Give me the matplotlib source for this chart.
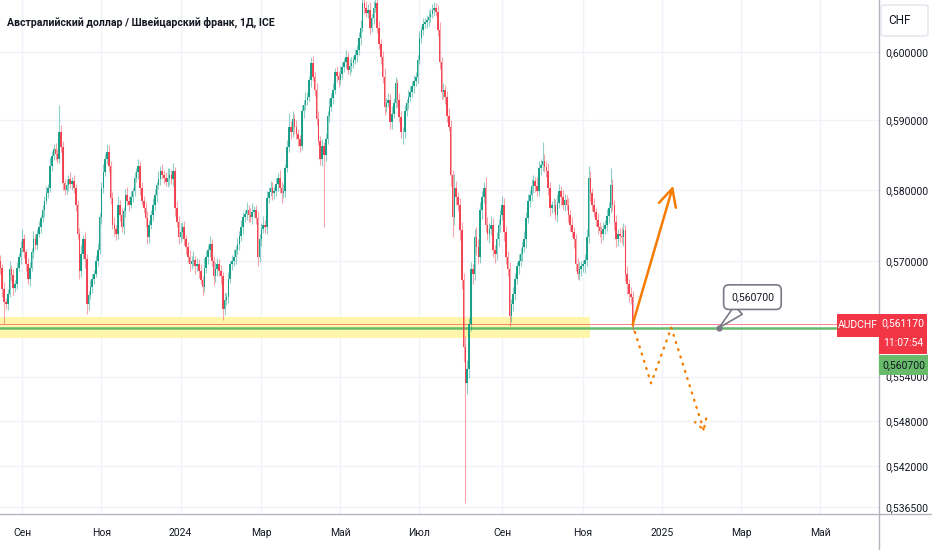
import matplotlib
matplotlib.use('Agg')
import matplotlib.pyplot as plt
from matplotlib.patches import Rectangle, FancyBboxPatch
from matplotlib.lines import Line2D
from matplotlib.ticker import NullLocator
import numpy as np
import pandas as pd

plt.rcParams['font.family'] = ['Roboto', 'DejaVu Sans']

title = 'Австралийский доллар / Швейцарский франк, 1Д, ICE'
symbol = 'AUDCHF'
currency = 'CHF'
countdown = '11:07:54'

# daily AUDCHF, closes in 1e-4 units, first bar 2023-08-16
start_date = '2023-08-16'
open_first = 5700
closes = [
    5690, 5660, 5643, 5640, 5654, 5688, 5680, 5662, 5668, 5690, 5705, 5718, 5730, 5712, 5695, 5674, 5690, 5712, 5730, 5722,
    5738, 5747, 5760, 5771, 5785, 5795, 5803, 5835, 5848, 5859, 5852, 5845, 5883, 5862, 5810, 5800, 5807, 5815, 5808, 5813,
    5803, 5779, 5737, 5685, 5710, 5730, 5702, 5640, 5652, 5664, 5675, 5682, 5700, 5715, 5761, 5803, 5825, 5845, 5855, 5835,
    5789, 5751, 5745, 5737, 5779, 5765, 5747, 5770, 5793, 5785, 5779, 5790, 5799, 5817, 5825, 5835, 5803, 5785, 5775, 5760,
    5733, 5751, 5765, 5779, 5793, 5807, 5815, 5827, 5822, 5817, 5812, 5817, 5822, 5815, 5827, 5775, 5755, 5733, 5740, 5747,
    5730, 5719, 5705, 5695, 5700, 5701, 5692, 5695, 5685, 5673, 5664, 5690, 5705, 5715, 5723, 5700, 5678, 5688, 5695, 5686,
    5678, 5633, 5645, 5650, 5675, 5695, 5700, 5705, 5715, 5723, 5735, 5747, 5761, 5766, 5771, 5765, 5761, 5768, 5771, 5760,
    5705, 5730, 5745, 5751, 5747, 5789, 5797, 5803, 5795, 5799, 5808, 5817, 5803, 5796, 5799, 5831, 5862, 5891, 5883, 5902,
    5890, 5880, 5873, 5863, 5913, 5922, 5930, 5934, 5959, 5984, 5964, 5945, 5902, 5870, 5845, 5863, 5850, 5873, 5906, 5920,
    5932, 5945, 5970, 5965, 5959, 5968, 5978, 5985, 5993, 5974, 5980, 5984, 5988, 5995, 6003, 6020, 6036, 6072, 6066, 6058,
    6062, 6036, 6050, 6066, 6072, 6036, 6012, 5993, 5964, 5920, 5926, 5930, 5897, 5910, 5926, 5955, 5930, 5905, 5883, 5883,
    5913, 5925, 5934, 5942, 5950, 5957, 5964, 5988, 6021, 6032, 6042, 6045, 6047, 6052, 6057, 6062, 6066, 6060, 6032, 5985,
    5941, 5945, 5934, 5906, 5891, 5821, 5761, 5803, 5790, 5779, 5743, 5673, 5580, 5531, 5550, 5612, 5688, 5682, 5733, 5720,
    5705, 5771, 5790, 5803, 5751, 5737, 5745, 5751, 5715, 5709, 5730, 5751, 5765, 5779, 5740, 5705, 5688, 5623, 5640, 5654,
    5675, 5692, 5700, 5709, 5720, 5730, 5760, 5785, 5793, 5805, 5813, 5806, 5799, 5831, 5836, 5841, 5833, 5827, 5803, 5775,
    5778, 5779, 5765, 5782, 5799, 5790, 5779, 5786, 5779, 5765, 5751, 5740, 5730, 5695, 5682, 5688, 5692, 5695, 5701, 5733,
    5817, 5795, 5779, 5768, 5757, 5747, 5742, 5737, 5745, 5751, 5763, 5775, 5807, 5779, 5755, 5730, 5737, 5735, 5733, 5743,
    5682, 5668, 5654, 5650, 5612,
]
wick_up = [
    8, 6, 10, 5, 7, 12, 6, 9, 5, 8, 6, 10, 14, 7, 5, 9, 8, 6, 12, 7,
    6, 9, 5, 8, 7, 10, 6, 12, 8, 7, 9, 6, 40, 10, 8, 6, 9, 7, 11, 6,
    8, 5, 7, 9, 12, 6, 10, 8, 6, 9, 7, 5, 8, 10, 6, 9, 12, 7, 11, 9,
    6, 8, 10, 5, 12, 7, 9, 6, 8, 11, 7, 9, 5, 8, 6, 10, 7, 9, 6, 8,
    10, 7, 6, 9, 8, 5, 12, 7, 10, 6, 8, 14, 9, 7, 12, 6, 10, 8, 13, 7,
    9, 6, 8, 10, 7, 12, 6, 9, 8, 10, 6, 14, 9, 7, 12, 8, 6, 10, 9, 7,
    8, 6, 10, 7, 9, 5, 8, 11, 6, 9, 7, 10, 8, 6, 12, 7, 9, 14, 6, 8,
    10, 7, 8, 12, 6, 9, 7, 10, 8, 6, 9, 7, 12, 8, 10, 6, 9, 20, 8, 12,
    7, 10, 8, 6, 9, 7, 11, 8, 6, 8, 10, 7, 9, 12, 8, 10, 6, 9, 7, 12,
    8, 10, 6, 9, 7, 11, 8, 6, 10, 7, 9, 8, 6, 10, 7, 9, 12, 15, 8, 10,
    9, 12, 7, 10, 15, 8, 10, 7, 9, 12, 6, 10, 8, 11, 7, 9, 6, 10, 8, 7,
    9, 6, 10, 8, 7, 9, 6, 8, 10, 7, 9, 6, 8, 10, 7, 9, 8, 6, 10, 12,
    8, 10, 6, 9, 12, 10, 8, 20, 10, 7, 9, 12, 10, 15, 12, 9, 10, 8, 12, 15,
    10, 12, 9, 8, 15, 10, 8, 12, 9, 7, 10, 8, 6, 12, 10, 9, 8, 10, 7, 9,
    8, 6, 10, 9, 7, 12, 8, 9, 7, 10, 8, 6, 12, 10, 9, 28, 10, 8, 12, 9,
    7, 10, 8, 12, 9, 6, 10, 8, 7, 9, 6, 10, 8, 7, 9, 10, 8, 6, 9, 12,
    17, 10, 8, 9, 6, 10, 8, 7, 9, 6, 10, 8, 24, 9, 7, 10, 8, 9, 12, 10,
    8, 10, 7, 9, 8,
]
wick_dn = [
    8, 10, 31, 7, 9, 5, 8, 10, 6, 7, 5, 9, 6, 8, 10, 7, 9, 5, 8, 6,
    7, 5, 8, 6, 9, 5, 7, 6, 8, 5, 9, 7, 6, 8, 10, 7, 6, 9, 5, 8,
    7, 9, 6, 10, 8, 7, 12, 14, 8, 6, 9, 7, 5, 8, 6, 9, 7, 5, 8, 10,
    9, 7, 10, 8, 6, 9, 7, 10, 8, 6, 9, 5, 7, 8, 6, 9, 10, 7, 8, 12,
    10, 8, 6, 9, 7, 10, 6, 8, 7, 9, 6, 8, 10, 7, 9, 12, 8, 10, 7, 9,
    8, 10, 7, 9, 6, 8, 10, 7, 9, 6, 12, 8, 7, 9, 10, 8, 12, 7, 9, 8,
    10, 15, 8, 7, 9, 6, 8, 7, 10, 6, 8, 7, 9, 6, 8, 10, 7, 9, 6, 8,
    12, 7, 9, 6, 8, 10, 7, 6, 9, 8, 7, 10, 8, 15, 7, 9, 6, 8, 10, 7,
    9, 7, 10, 8, 6, 9, 7, 8, 6, 10, 7, 9, 8, 6, 9, 10, 103, 8, 7, 9,
    6, 8, 7, 9, 10, 6, 8, 7, 9, 6, 8, 10, 7, 6, 9, 8, 10, 7, 9, 6,
    8, 10, 7, 9, 6, 8, 7, 10, 9, 12, 8, 7, 10, 9, 6, 8, 10, 7, 9, 17,
    8, 7, 9, 6, 8, 10, 7, 9, 6, 8, 7, 6, 9, 8, 7, 6, 8, 7, 9, 10,
    12, 8, 10, 9, 7, 15, 28, 10, 12, 9, 14, 12, 20, 161, 15, 12, 10, 14, 9, 12,
    10, 8, 12, 9, 10, 8, 12, 9, 10, 12, 8, 9, 10, 8, 12, 10, 9, 14, 8, 10,
    9, 8, 10, 7, 9, 8, 12, 7, 9, 8, 10, 9, 7, 8, 10, 9, 7, 8, 10, 12,
    8, 9, 7, 10, 8, 12, 7, 9, 8, 10, 9, 7, 12, 10, 8, 9, 10, 8, 12, 9,
    8, 10, 9, 7, 8, 10, 9, 12, 8, 7, 9, 10, 8, 9, 12, 10, 9, 8, 10, 12,
    10, 14, 12, 10, 9,
]

last_price = 0.56117
level_price = 0.5607
zone_low = 0.5593
zone_high = 0.5622
zone_end = '2024-11-07'

y_ticks = [0.600, 0.590, 0.580, 0.570, 0.554, 0.548, 0.542, 0.5365]
month_ticks = ['2023-09-01', '2023-11-01', '2024-01-01', '2024-03-01', '2024-05-01', '2024-07-01',
               '2024-09-02', '2024-11-01', '2025-01-01', '2025-03-03', '2025-05-01']
month_labels = ['Сен', 'Ноя', '2024', 'Мар', 'Май', 'Июл', 'Сен', 'Ноя', '2025', 'Мар', 'Май']

# drawings
arrow_from = ('2024-12-10', 0.56117)
arrow_to = ('2025-01-09', 0.5806)
path_dates = ['2024-12-10', '2024-12-24', '2025-01-08', '2025-02-03']
path_prices = [0.5611, 0.5531, 0.5607, 0.5465]
callout_date = '2025-02-13'

UP = '#089981'
DOWN = '#f23645'
ORANGE = '#f57c00'
GREEN = '#67bb6a'
TXT = '#131722'
W, H = 932, 550

dates = pd.bdate_range(start_date, '2025-08-29')
def idx(d):
    return dates.searchsorted(pd.Timestamp(d))

fig = plt.figure(figsize=(W / 100, H / 100), dpi=100)
ax = fig.add_axes([0, 1 - 514 / H, 879 / W, 514 / H])

c = np.array(closes) / 1e4
o = np.r_[open_first / 1e4, c[:-1]]
hi = np.maximum(o, c) + np.array(wick_up) / 1e4
lo = np.minimum(o, c) - np.array(wick_dn) / 1e4
x = np.arange(len(c))
col = np.where(c >= o, UP, DOWN)

ax.vlines(x, lo, hi, colors=col, lw=0.8, alpha=0.45, zorder=3)
ax.bar(x, np.maximum(np.abs(c - o), 0.00004), bottom=np.minimum(o, c), width=0.85,
       color=col, lw=0, alpha=0.9, zorder=4)

# support zone and levels
ax.fill_between([-1, idx(zone_end)], zone_low, zone_high, color='#fff59d', alpha=0.85, lw=0, zorder=1)
ax.axhline(last_price, color=DOWN, lw=0.7, alpha=0.6, zorder=2)
ax.axhline(level_price, color=GREEN, lw=1.8, zorder=2.5)

# forecast arrow and dotted path
ax.annotate('', xy=(idx(arrow_to[0]), arrow_to[1]), xytext=(idx(arrow_from[0]), arrow_from[1]),
            arrowprops=dict(arrowstyle='->,head_length=0.9,head_width=0.45', color=ORANGE, lw=1.8,
                            mutation_scale=14, shrinkA=0, shrinkB=0), zorder=6)
px = [idx(d) for d in path_dates]
ax.plot(px[:3], path_prices[:3], color=ORANGE, lw=1.7, ls=(0, (0.4, 2.8)), dash_capstyle='round', zorder=6)
ax.annotate('', xy=(px[3], path_prices[3]), xytext=(px[2], path_prices[2]),
            arrowprops=dict(arrowstyle='->,head_length=0.6,head_width=0.35', color=ORANGE, lw=1.7,
                            ls=(0, (0.4, 2.8)), capstyle='round', mutation_scale=12,
                            shrinkA=0, shrinkB=0), zorder=6)

# callout on the level
cx = idx(callout_date)
ax.plot(cx, level_price, 'o', ms=3.5, color='#787b86', zorder=7)
ax.annotate(f'{level_price:.6f}'.replace('.', ','), xy=(cx, level_price), xytext=(24, 22),
            textcoords='offset points', ha='center', va='center', fontsize=7.5, color=TXT,
            bbox=dict(boxstyle='round,pad=0.7,rounding_size=0.5', fc='white', ec='#787b86', lw=1.2),
            arrowprops=dict(arrowstyle='wedge,tail_width=1.1,shrink_factor=0.5', fc='white',
                            ec='#787b86', lw=1.2, shrinkA=0, shrinkB=0), zorder=8)

# axes
ax.set_yscale('log')
ax.set_ylim(0.53561, 0.60772)
ax.set_xlim(-0.2, 478.0)
ax.set_yticks(y_ticks)
ax.yaxis.set_minor_locator(NullLocator())
ax.set_yticklabels([f'{v:.6f}'.replace('.', ',') for v in y_ticks])
ax.yaxis.tick_right()
ax.set_xticks([idx(d) for d in month_ticks])
ax.set_xticklabels(month_labels)
ax.tick_params(axis='both', length=0, labelsize=7.5, labelcolor=TXT)
ax.tick_params(axis='y', pad=4.5)
ax.tick_params(axis='x', pad=10)
ax.grid(True, color='#f0f3fa', lw=1, zorder=0)
ax.set_axisbelow(True)
for s in ax.spines.values():
    s.set_visible(False)

fig.add_artist(Line2D([0, 1], [1 - 514 / H] * 2, transform=fig.transFigure, color='#b2b5be', lw=1))
fig.add_artist(Line2D([879 / W] * 2, [0, 1], transform=fig.transFigure, color='#b2b5be', lw=1))

def box(x0, y0, x1, y1, color):
    fig.add_artist(Rectangle((x0 / W, 1 - y1 / H), (x1 - x0) / W, (y1 - y0) / H,
                             transform=fig.transFigure, fc=color, ec='none', zorder=10))

def label(xp, yp, s, color, ha='left', size=7.5):
    fig.text(xp / W, 1 - yp / H, s, color=color, ha=ha, va='center', fontsize=size, zorder=11)

box(837, 314, 879, 337, DOWN)
box(879, 314, 927, 354, DOWN)
box(879, 355, 928, 375, GREEN)
label(858, 325.5, symbol, 'white', ha='center')
label(903, 323, f'{last_price:.6f}'.replace('.', ','), 'white', ha='center')
label(903, 343, countdown, 'white', ha='center')
label(903.5, 365, f'{level_price:.6f}'.replace('.', ','), TXT, ha='center')

fig.add_artist(FancyBboxPatch((881 / W, 1 - 36 / H), 47 / W, 31 / H, boxstyle='round,pad=0,rounding_size=0.004',
                              transform=fig.transFigure, fc='white', ec='#e0e3eb', lw=1, zorder=10))
label(888, 21, currency, TXT, size=8.5)

fig.text(7 / W, 1 - 22 / H, title, color=TXT, fontsize=7.6, fontweight='semibold', va='center', ha='left')

fig.savefig('out.png', dpi=100)
